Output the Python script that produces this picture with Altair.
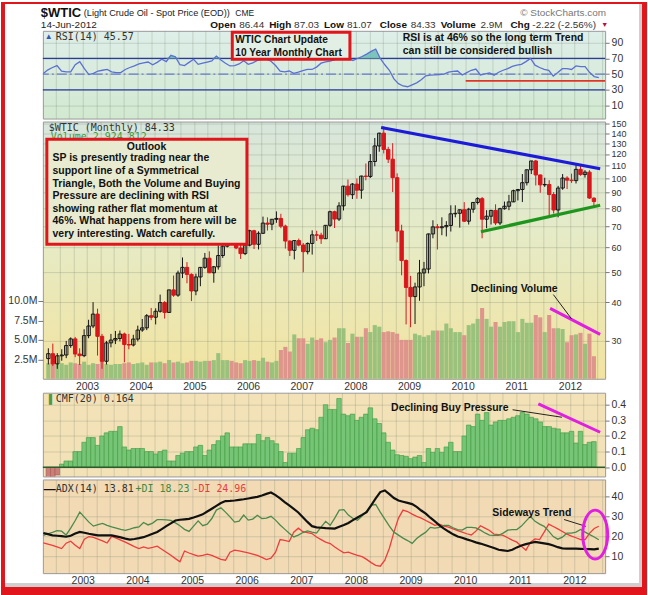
import altair as alt
import pandas as pd
import numpy as np

# ---------------- data (monthly, Apr-2002 .. Jun-2012) ----------------
MONTHS = pd.date_range("2002-04-01", periods=123, freq="MS")

OPEN = [
    26.31, 27.29, 25.31, 26.86, 27.02, 28.98, 30.45, 27.22, 26.89, 31.20, 33.51, 36.60,
    31.04, 25.80, 29.56, 30.19, 30.54, 31.57, 29.20, 29.11, 30.41, 32.52, 33.05, 36.16,
    35.76, 37.38, 39.88, 37.05, 43.80, 42.12, 49.64, 51.76, 49.13, 43.45, 48.20, 51.75,
    55.40, 49.72, 51.97, 56.50, 60.57, 68.94, 66.24, 59.76, 57.32, 61.04, 67.92, 61.41,
    66.63, 71.88, 71.29, 73.93, 74.40, 70.26, 62.91, 58.73, 63.13, 61.05, 58.14, 61.79,
    65.87, 65.71, 64.01, 70.68, 78.21, 74.04, 81.66, 94.53, 88.71, 95.98, 91.75, 101.84,
    101.58, 113.46, 127.35, 140.00, 124.08, 115.46, 100.64, 67.81, 54.43, 44.60, 41.68, 44.76,
    49.66, 51.12, 66.31, 69.89, 69.45, 69.96, 70.61, 77.00, 77.28, 79.36, 72.89, 79.66,
    83.76, 86.15, 73.97, 75.63, 78.95, 71.92, 79.97, 81.43, 84.11, 91.38, 92.19, 96.97,
    106.72, 113.93, 102.70, 95.42, 95.70, 88.81, 79.20, 93.19, 100.36, 98.83, 98.48, 107.07,
    103.02, 104.87, 86.44,
]
HIGH = [
    28.4, 29.4, 27.4, 28.2, 30.0, 30.8, 30.9, 28.4, 32.7, 35.1, 39.99, 38.1,
    31.6, 30.0, 31.6, 32.3, 32.4, 31.9, 31.6, 31.4, 33.6, 35.3, 36.6, 38.3,
    38.2, 42.3, 40.3, 43.8, 48.7, 50.5, 55.7, 53.8, 49.5, 49.4, 51.9, 57.6,
    58.3, 52.3, 60.9, 62.1, 70.8, 70.8, 66.4, 61.5, 61.7, 68.4, 68.4, 67.6,
    75.4, 75.0, 74.0, 78.4, 77.0, 71.0, 63.2, 63.2, 64.1, 62.0, 62.3, 68.1,
    67.9, 66.9, 70.7, 78.8, 78.8, 83.9, 94.7, 99.3, 96.7, 100.1, 102.1, 111.8,
    119.9, 135.1, 140.4, 147.3, 126.5, 130.0, 103.9, 71.0, 54.9, 48.6, 46.2, 54.7,
    53.9, 66.5, 73.4, 71.4, 75.0, 72.9, 82.0, 82.0, 79.4, 83.95, 80.5, 83.9,
    87.1, 87.2, 79.1, 79.3, 82.6, 80.5, 84.3, 88.6, 92.1, 92.6, 103.4, 106.9,
    114.0, 114.8, 103.0, 100.6, 98.8, 90.5, 94.7, 103.4, 101.7, 103.7, 110.6, 110.0,
    106.4, 106.4, 87.03,
]
LOW = [
    25.2, 24.9, 24.4, 25.9, 26.4, 28.5, 26.6, 25.1, 26.6, 30.6, 33.0, 26.9,
    24.4, 25.2, 28.6, 29.3, 29.9, 25.6, 28.2, 28.8, 29.9, 32.1, 32.5, 35.0,
    33.9, 37.0, 35.4, 36.9, 41.6, 41.6, 47.8, 46.0, 40.3, 42.1, 45.0, 51.2,
    49.6, 46.2, 50.9, 55.5, 60.0, 62.8, 59.2, 55.1, 56.7, 60.5, 59.3, 59.1,
    66.3, 68.0, 68.2, 72.0, 69.2, 59.5, 56.3, 54.9, 60.5, 49.9, 57.0, 56.9,
    63.0, 61.6, 64.0, 69.9, 69.3, 73.0, 78.9, 87.5, 85.9, 86.1, 86.1, 98.7,
    100.4, 109.5, 122.0, 120.4, 112.2, 90.5, 62.3, 48.8, 33.9, 33.2, 34.0, 40.4,
    45.0, 49.5, 64.2, 59.1, 65.7, 65.1, 67.5, 75.0, 69.5, 72.4, 71.1, 77.6,
    82.5, 64.2, 69.2, 71.1, 70.8, 70.8, 79.4, 79.1, 84.0, 85.0, 84.0, 95.0,
    103.4, 95.0, 90.0, 94.0, 76.0, 77.1, 75.0, 92.0, 92.5, 96.8, 96.4, 102.1,
    100.7, 86.0, 81.07,
]
CLOSE = [
    27.29, 25.31, 26.86, 27.02, 28.98, 30.45, 27.22, 26.89, 31.20, 33.51, 36.60, 31.04,
    25.80, 29.56, 30.19, 30.54, 31.57, 29.20, 29.11, 30.41, 32.52, 33.05, 36.16, 35.76,
    37.38, 39.88, 37.05, 43.80, 42.12, 49.64, 51.76, 49.13, 43.45, 48.20, 51.75, 55.40,
    49.72, 51.97, 56.50, 60.57, 68.94, 66.24, 59.76, 57.32, 61.04, 67.92, 61.41, 66.63,
    71.88, 71.29, 73.93, 74.40, 70.26, 62.91, 58.73, 63.13, 61.05, 58.14, 61.79, 65.87,
    65.71, 64.01, 70.68, 78.21, 74.04, 81.66, 94.53, 88.71, 95.98, 91.75, 101.84, 101.58,
    113.46, 127.35, 140.00, 124.08, 115.46, 100.64, 67.81, 54.43, 44.60, 41.68, 44.76, 49.66,
    51.12, 66.31, 69.89, 69.45, 69.96, 70.61, 77.00, 77.28, 79.36, 72.89, 79.66, 83.76,
    86.15, 73.97, 75.63, 78.95, 71.92, 79.97, 81.43, 84.11, 91.38, 92.19, 96.97, 106.72,
    113.93, 102.70, 95.42, 95.70, 88.81, 79.20, 93.19, 100.36, 98.83, 98.48, 107.07, 103.02,
    104.87, 86.53, 84.33,
]
VOLUME_M = [
    2.0, 2.1, 1.9, 2.0, 1.8, 2.1, 2.0, 1.9, 2.2, 1.8, 2.0, 1.9,
    2.3, 1.9, 1.8, 1.9, 1.9, 2.0, 2.1, 1.9, 2.0, 2.1, 1.8, 2.1,
    2.1, 2.2, 2.0, 2.4, 2.1, 2.2, 2.0, 2.1, 2.3, 2.3, 2.2, 2.3,
    2.3, 2.4, 3.3, 2.4, 2.4, 2.3, 2.1, 2.0, 2.4, 2.3, 2.4, 2.3,
    2.7, 2.2, 2.1, 2.3, 3.7, 4.1, 3.5, 5.7, 5.2, 5.2, 4.5, 5.3,
    5.0, 5.2, 4.7, 5.0, 5.3, 6.5, 6.5, 4.6, 5.8, 5.4, 5.4, 6.5,
    6.0, 6.9, 6.7, 6.0, 6.1, 6.0, 5.8, 5.0, 5.0, 5.0, 5.8, 5.6,
    5.4, 5.6, 6.2, 6.2, 6.2, 7.1, 6.5, 6.0, 6.0, 5.6, 6.9, 7.1,
    7.7, 9.1, 7.7, 6.7, 7.3, 6.7, 7.3, 7.4, 7.4, 6.0, 7.7, 7.2,
    7.2, 8.2, 7.9, 6.0, 8.2, 6.5, 6.5, 6.4, 4.7, 5.6, 5.7, 5.9,
    4.5, 5.8, 2.9,
]
RSI = [
    50.8, 55.5, 58.5, 61.0, 54.0, 53.0, 53.0, 62.0, 66.0, 57.0, 49.5, 51.0,
    54.0, 55.0, 56.0, 53.0, 52.0, 52.0, 56.0, 58.5, 60.5, 63.0, 64.5, 65.5,
    62.0, 65.0, 69.0, 66.0, 74.0, 72.0, 62.0, 61.0, 65.0, 69.0, 62.5, 64.0,
    65.5, 67.0, 73.0, 68.0, 64.0, 60.5, 61.0, 63.0, 67.0, 62.5, 64.5, 67.5,
    69.0, 69.0, 66.5, 61.0, 54.0, 53.0, 54.0, 51.0, 52.5, 54.5, 56.0, 56.0,
    59.0, 64.0, 65.7, 66.5, 68.5, 70.0, 70.0, 70.0, 67.5, 70.0, 72.5, 75.5,
    79.0, 82.0, 70.0, 62.0, 55.0, 44.0, 38.0, 35.0, 34.0, 36.5, 39.0, 43.0,
    48.0, 48.7, 49.0, 49.5, 50.0, 52.5, 53.5, 54.0, 49.0, 52.0, 55.0, 56.5,
    49.0, 50.5, 51.5, 48.7, 52.5, 55.0, 57.0, 60.0, 61.5, 62.5, 66.0, 70.0,
    61.5, 58.5, 56.0, 55.0, 47.5, 52.0, 57.0, 57.0, 56.0, 60.5, 59.5, 59.7,
    52.0, 47.0, 45.57,
]
CMF = [
    -0.09, -0.06, -0.05, 0.02, 0.04, 0.04, 0.10, 0.10, 0.16, 0.19, 0.19, 0.14,
    0.20, 0.22, 0.23, 0.23, 0.26, 0.13, 0.11, 0.12, 0.12, 0.12, 0.10, 0.10,
    0.085, 0.10, 0.11, 0.04, 0.04, 0.075, 0.09, 0.10, 0.10, 0.13, 0.14, 0.075,
    0.11, 0.145, 0.17, 0.20, 0.22, 0.13, 0.13, 0.13, 0.15, 0.15, 0.15, 0.21,
    0.17, 0.19, 0.17, 0.15, 0.10, 0.03, 0.09, 0.09, 0.12, 0.19, 0.24, 0.25,
    0.24, 0.32, 0.40, 0.37, 0.37, 0.44, 0.34, 0.33, 0.34, 0.30, 0.32, 0.34,
    0.38, 0.31, 0.28, 0.22, 0.16, 0.11, 0.08, 0.075, 0.07, 0.055, 0.065, 0.075,
    0.03, 0.12, 0.095, 0.12, 0.095, 0.13, 0.16, 0.10, 0.10, 0.20, 0.27, 0.26,
    0.34, 0.30, 0.35, 0.27, 0.29, 0.30, 0.30, 0.31, 0.32, 0.33, 0.35, 0.34,
    0.32, 0.31, 0.29, 0.26, 0.26, 0.25, 0.245, 0.22, 0.22, 0.23, 0.155, 0.23,
    0.145, 0.16, 0.164,
]
ADX = [
    21.6, 21.0, 20.4, 20.2, 20.0, 19.7, 20.2, 21.3, 22.1, 21.7, 21.2, 20.8,
    20.4, 20.4, 20.4, 20.4, 19.9, 19.4, 18.8, 18.3, 18.6, 19.0, 19.5, 20.3,
    21.2, 22.1, 23.5, 25.0, 26.4, 27.8, 28.2, 28.4, 28.6, 29.3, 30.1, 30.9,
    32.3, 33.7, 35.1, 36.5, 37.5, 37.6, 37.8, 38.1, 38.4, 38.8, 39.2, 39.6,
    40.3, 41.1, 41.8, 40.5, 38.8, 37.0, 35.3, 33.6, 31.8, 29.4, 27.1, 25.0,
    24.4, 24.2, 24.0, 23.9, 23.8, 24.7, 25.6, 26.6, 28.0, 29.3, 30.6, 32.0,
    35.4, 38.8, 42.0, 42.8, 41.0, 39.0, 37.8, 37.2, 36.6, 36.0, 34.6, 32.8,
    31.2, 29.2, 27.4, 25.4, 23.8, 22.3, 20.9, 19.8, 19.2, 18.4, 17.7, 16.9,
    16.3, 15.6, 14.8, 14.1, 13.2, 12.9, 12.6, 13.2, 14.4, 15.3, 16.0, 16.6,
    17.1, 16.8, 16.4, 16.0, 15.3, 14.5, 13.9, 13.8, 13.8, 13.8, 13.7, 13.6,
    13.5, 13.4, 13.81,
]
PLUS_DI = [
    20.4, 21.2, 21.9, 22.8, 22.5, 20.6, 24.0, 27.8, 32.0, 29.5, 27.0, 25.0,
    25.8, 26.4, 25.4, 24.6, 24.0, 23.4, 22.9, 23.5, 24.2, 24.6, 26.8, 25.6,
    26.5, 28.2, 28.2, 28.1, 27.9, 26.6, 25.2, 23.4, 22.4, 25.0, 27.6, 25.2,
    26.0, 28.8, 33.0, 34.2, 32.0, 29.6, 27.0, 27.5, 30.5, 28.0, 28.5, 30.4,
    28.8, 29.0, 29.9, 28.0, 25.6, 23.5, 21.5, 19.6, 20.5, 21.8, 22.6, 22.0,
    21.5, 24.5, 27.4, 25.4, 29.0, 33.0, 33.2, 30.5, 28.8, 27.9, 30.0, 32.5,
    35.5, 35.8, 32.0, 28.5, 25.0, 22.0, 20.5, 19.0, 17.8, 16.4, 18.8, 20.5,
    22.0, 24.4, 24.0, 24.4, 25.4, 25.4, 24.2, 23.3, 23.0, 24.4, 24.4, 24.1,
    23.0, 21.6, 20.5, 20.4, 20.4, 21.5, 23.0, 23.3, 23.3, 25.0, 27.5, 29.8,
    27.4, 26.0, 24.9, 22.5, 19.8, 18.5, 19.5, 21.5, 21.5, 22.0, 23.3, 22.0,
    20.8, 19.6, 18.23,
]
MINUS_DI = [
    16.6, 16.0, 15.4, 14.6, 13.8, 16.5, 17.5, 15.5, 13.8, 18.5, 19.8, 19.4,
    18.5, 17.6, 16.6, 19.9, 19.0, 18.0, 17.0, 15.9, 14.8, 13.8, 14.6, 13.9,
    14.4, 15.0, 13.5, 12.0, 10.5, 8.8, 7.2, 12.6, 11.6, 10.8, 10.0, 10.4,
    11.0, 10.4, 9.4, 8.4, 8.0, 12.0, 13.0, 12.6, 12.1, 11.6, 11.0, 10.4,
    9.4, 8.3, 9.0, 12.0, 18.3, 17.9, 17.3, 22.0, 24.0, 22.2, 21.8, 21.3,
    19.6, 18.3, 17.0, 16.3, 14.6, 13.1, 11.7, 12.0, 11.2, 10.4, 9.8, 8.4,
    6.8, 5.4, 5.0, 8.0, 14.0, 22.0, 29.0, 33.0, 32.3, 31.0, 29.9, 29.0,
    27.8, 26.6, 25.4, 26.0, 25.0, 24.5, 23.6, 22.8, 22.0, 21.2, 20.6, 22.5,
    25.2, 24.0, 22.8, 21.0, 20.8, 20.4, 19.2, 18.0, 17.0, 15.0, 13.0, 17.0,
    18.6, 18.3, 22.0, 26.0, 24.8, 23.6, 22.3, 21.0, 20.0, 19.2, 18.3, 18.3,
    21.5, 23.8, 24.96,
]

# axis tick values
YEAR_QUARTERS = [round(2002.5 + 0.25 * k, 2) for k in range(41)]
RSI_TICKS = [10, 30, 50, 70, 90]
PRICE_TICKS = [30, 40, 50, 60, 70, 80, 90, 100, 110, 120, 130, 140, 150]
VOL_TICKS = [2.5, 5.0, 7.5, 10.0]
CMF_TICKS = [0.0, 0.1, 0.2, 0.3, 0.4]
ADX_TICKS = [10, 20, 30, 40]

# annotation anchors (fractional year, value)
BLUE_T, BLUE_P = [2008.48, 2012.562], [146.0, 107.5]
GREEN_T, GREEN_P = [2010.34, 2012.562], [67.4, 82.0]
VOLMAG_T, VOLMAG_P = [2011.63, 2012.562], [38.2, 31.5]
VOLPTR_T, VOLPTR_P = [2011.69, 2012.03], [42.3, 35.3]
VOLTXT_T, VOLTXT_P = [2010.96], [44.1]
RSIRED_T, RSIRED_V = [2010.01, 2012.562], [41.5]
CMFTXT_T, CMFTXT_V = [2009.76], [0.38]
CMFPTR_T, CMFPTR_V = [2010.93, 2011.85], [0.368, 0.32]
CMFMAG_T, CMFMAG_V = [2011.41, 2012.562], [0.406, 0.224]
ADXTXT_T, ADXTXT_V = [2011.22], [31.5]
ADXPTR_T, ADXPTR_V = [2011.81, 2012.21], [28.3, 24.9]
ADXELL_T, ADXELL_V = [2012.38], [20.8]

OUTLOOK_LINES = [
    "SP is presently trading near the",
    "support line of a Symmetrical",
    "Triangle, Both the Volume and Buying",
    "Pressure are declining with RSI",
    "showing rather flat momentum at",
    "46%. What happens from here will be",
    "very interesting. Watch carefully.",
]

# ---------------- tables ----------------
df = pd.DataFrame({
    "open": OPEN, "high": HIGH, "low": LOW, "close": CLOSE, "vol": VOLUME_M,
    "rsi": RSI, "cmf": CMF, "adx": ADX, "pdi": PLUS_DI, "mdi": MINUS_DI,
})
df["t"] = MONTHS.year + (MONTHS.month - 1 + 0.35) / 12.0
df["dir"] = np.where(df["close"] >= df["open"], "up", "down")

ONE = pd.DataFrame({"k": [0]})

W = 564
SANS = "Liberation Sans, Arial, sans-serif"
MONO = "DejaVu Sans Mono, monospace"
RED = "#e0161c"
MAGENTA = "#e01fe0"
XDOM = [2002.27, 2012.562]


def X(labels=False, pad=3):
    return alt.X(
        "t:Q",
        scale=alt.Scale(domain=XDOM, nice=False, zero=False),
        axis=alt.Axis(values=YEAR_QUARTERS, grid=True, labels=labels, ticks=False, domain=False,
                      title=None, labelPadding=pad, labelOverlap=False, labelFlush=False,
                      labelExpr="datum.value % 1 == 0 ? format(datum.value, 'd') : ''"),
    )


def right_axis(values, fmt=None, size=None):
    kw = dict(orient="right", values=values, grid=True, title=None, domain=False,
              tickSize=4, labelPadding=2, labelOverlap=False)
    if fmt:
        kw["format"] = fmt
    if size:
        kw["labelFontSize"] = size
    return alt.Axis(**kw)


def Yq(field, domain, values, fmt=None, scale_type=None, size=None):
    sc = dict(domain=domain, nice=False, zero=False)
    if scale_type:
        sc["type"] = scale_type
    return alt.Y(f"{field}:Q", scale=alt.Scale(**sc), axis=right_axis(values, fmt, size))


def two(ts, vs, name):
    return pd.DataFrame({"t": ts, name: vs})


def ptext(text, x, y, **kw):
    return alt.Chart(ONE).mark_text(text=text, **kw).encode(x=alt.value(x), y=alt.value(y))


def prect(x, x2, y, y2, **kw):
    return alt.Chart(ONE).mark_rect(**kw).encode(
        x=alt.value(x), x2=alt.value(x2), y=alt.value(y), y2=alt.value(y2))


def grad(stops):
    s = ", ".join("{offset: %s, color: '%s'}" % (o, c) for o, c in stops)
    return alt.ExprRef(expr="{gradient: 'linear', x1: 0, y1: 0, x2: 0, y2: 1, stops: [%s]}" % s)


base = alt.Chart(df)
BOLD = dict(font=SANS, fontWeight="bold", fontSize=10.5, color="#111")

# ---------------- RSI panel ----------------
RSI_DOM = [-6.5, 105.2]
def Yr(f):
    return Yq(f, RSI_DOM, RSI_TICKS)

rsi_levels = alt.Chart(pd.DataFrame({"lvl": [70, 30]})).mark_rule(
    color="#2a3a9e", strokeWidth=1.2).encode(y=Yr("lvl"))
rsi_mid = alt.Chart(pd.DataFrame({"lvl": [50]})).mark_rule(
    color="#6a7ac8", strokeWidth=1.3, strokeDash=[10, 3, 2, 3]).encode(y=Yr("lvl"))
rsi_fill = base.transform_calculate(rtop="max(datum.rsi, 70)").mark_area(
    color="#6cbcb6", opacity=0.85).encode(x=X(), y=Yr("rtop"), y2=alt.datum(70))
rsi_line = base.mark_line(color="#5b70d2", strokeWidth=1.3).encode(x=X(), y=Yr("rsi"))
rsi_red = alt.Chart(pd.DataFrame({"t": [RSIRED_T[0]], "t1": [RSIRED_T[1]], "lvl": RSIRED_V})).mark_rule(
    color="#e0352a", strokeWidth=1.6).encode(x=X(), x2="t1:Q", y=Yr("lvl"))

rsi_layers = [
    rsi_levels, rsi_mid, rsi_fill, rsi_line, rsi_red,
    ptext("RSI(14) 45.57", 13, 6, font=MONO, fontSize=10, align="left", baseline="middle", color="#333"),
    ptext("\u25b2", 2, 6, fontSize=8, align="left", baseline="middle", color="#3355bb"),
    prect(190, 308, 1.5, 28.5, fill="#e2efe4", stroke=RED, strokeWidth=3),
    ptext(["WTIC Chart Update", "10 Year Monthly Chart"], 193, 9.5, align="left",
          baseline="middle", lineHeight=13, **dict(BOLD, fontSize=10.2)),
    ptext(["RSI is at 46% so the long term Trend", "can still be considered bullish"], 361, 7,
          align="left", baseline="middle", lineHeight=13.5, **BOLD),
    # header
    ptext("$WTIC", -2, -18, font=SANS, fontWeight="bold", fontSize=13, align="left",
          baseline="middle", color="#111"),
    ptext("(Light Crude Oil - Spot Price (EOD))", 41, -17.5, font=SANS, fontSize=9.2,
          align="left", baseline="middle", color="#222"),
    ptext("CME", 193, -17.5, font=SANS, fontSize=8.5, align="left", baseline="middle", color="#222"),
    ptext("\u00a9 StockCharts.com", 565, -18, font=SANS, fontSize=10, align="right",
          baseline="middle", color="#777"),
    ptext("14-Jun-2012", -2, -6, font=SANS, fontSize=10, align="left", baseline="middle", color="#222"),
]
hdr = [("Open", 168, True), ("86.44", 197, False), ("High", 227, True), ("87.03", 252, False),
       ("Low", 282, True), ("81.07", 305, False), ("Close", 338, True), ("84.33", 369, False),
       ("Volume", 399, True), ("2.9M", 439, False), ("Chg", 469, True), ("-2.22 (-2.56%)", 491, False)]
for txt, xx, b in hdr:
    rsi_layers.append(ptext(txt, xx, -6, font=SANS, fontSize=10,
                            fontWeight="bold" if b else "normal", align="left",
                            baseline="middle", color="#111" if b else "#333"))
rsi_layers.append(ptext("\u25bc", 560, -6, fontSize=7, align="left", baseline="middle", color="#b01040"))
# red frame and shadow of the whole picture
rsi_layers += [
    prect(-42, 606, 554, 558, fill="#cfcfcf"),
    prect(598, 601, -29, 566, fill="#cfcfcf"),
    prect(-42, -38, -29, 566, fill=RED),
    prect(601, 606, -29, 566, fill=RED),
    prect(-42, 606, -29, -27, fill=RED),
    prect(-42, 606, 558, 566, fill=RED),
]
rsi_panel = alt.layer(*rsi_layers).properties(
    width=W, height=88,
    view=alt.ViewBackground(fill=grad([(0, "#deeee9"), (1, "#d2e9d0")]), stroke="#9a9a9a"))

# ---------------- price / volume panel ----------------
P_DOM = [22.66, 152.6]
def Yp(f):
    return Yq(f, P_DOM, PRICE_TICKS, scale_type="log", size=9)

UP = "datum.dir == 'up'"
vol = base.mark_bar(size=4.1, opacity=0.92).encode(
    x=X(labels=True),
    y=alt.Y("vol:Q", scale=alt.Scale(domain=[0, 33.08], nice=False, zero=False),
            axis=alt.Axis(orient="left", values=VOL_TICKS, labelExpr="format(datum.value, '.1f') + 'M'",
                          grid=False, title=None, domain=False, tickSize=5, labelPadding=1)),
    y2=alt.datum(0),
    color=alt.condition(UP, alt.value("#93bf78"), alt.value("#dc8e89")),
)
wicks = base.mark_rule(strokeWidth=1, clip=True).encode(
    x=X(labels=True), y=Yp("low"), y2="high:Q",
    color=alt.condition(UP, alt.value("#151515"), alt.value("#d8161b")))
bodies = base.mark_bar(size=3.4, strokeWidth=1, clip=True).encode(
    x=X(labels=True), y=Yp("open"), y2="close:Q",
    fill=alt.condition(UP, alt.value("transparent"), alt.value("#d8161b")),
    stroke=alt.condition(UP, alt.value("#151515"), alt.value("#d8161b")))
blue = alt.Chart(two(BLUE_T, BLUE_P, "p")).mark_line(color="#1c1cd8", strokeWidth=3.2).encode(
    x=X(labels=True), y=Yp("p"))
green = alt.Chart(two(GREEN_T, GREEN_P, "p")).mark_line(color="#1e961e", strokeWidth=3.2).encode(
    x=X(labels=True), y=Yp("p"))
volmag = alt.Chart(two(VOLMAG_T, VOLMAG_P, "p")).mark_line(color=MAGENTA, strokeWidth=3).encode(
    x=X(labels=True), y=Yp("p"))
volptr = alt.Chart(two(VOLPTR_T, VOLPTR_P, "p")).mark_line(color="#222", strokeWidth=1).encode(
    x=X(labels=True), y=Yp("p"))
voltxt = alt.Chart(two(VOLTXT_T, VOLTXT_P, "p")).mark_text(
    text="Declining Volume", align="center", baseline="middle", **BOLD).encode(x=X(labels=True), y=Yp("p"))

price_group = alt.layer(
    wicks, bodies, blue, green, volmag, volptr, voltxt,
    ptext("$WTIC (Monthly) 84.33", 6, 6, font=MONO, fontSize=10, align="left", baseline="middle", color="#333"),
    ptext("Volume 2,924,812", 8, 16, font=MONO, fontSize=10, align="left", baseline="middle", color="#3f9a3f"),
    prect(4, 204.7, 17.7, 123, fill="#e8ebcf", stroke=RED, strokeWidth=3),
    ptext("Outlook", 104, 26, align="center", baseline="middle", **BOLD),
    ptext(OUTLOOK_LINES, 9.7, 37, align="left", baseline="middle", lineHeight=12.6, **BOLD),
)
main_panel = alt.layer(vol, price_group).resolve_scale(y="independent").properties(
    width=W, height=258,
    view=alt.ViewBackground(
        fill=grad([(0, "#d7e6dc"), (0.45, "#e6ebc6"), (1, "#f2e3a0")]), stroke="#9a9a9a"))

spacer = alt.Chart(ONE).mark_point(opacity=0).encode(x=alt.value(0), y=alt.value(0)).properties(
    width=W, height=8, view=alt.ViewBackground(stroke=None, fill=None))

# ---------------- CMF panel ----------------
C_DOM = [-0.059, 0.477]
def Yc(f):
    return Yq(f, C_DOM, CMF_TICKS, fmt=".1f")

POS = "datum.cmf >= 0"
cmf_bars = base.mark_bar(size=4.57, strokeWidth=0.6, clip=True).encode(
    x=X(), y=Yc("cmf"), y2=alt.datum(0),
    fill=alt.condition(POS, alt.value("#76c476"), alt.value("#c98079")),
    stroke=alt.condition(POS, alt.value("#3f9a3f"), alt.value("#a85a55")))
cmf_zero = alt.Chart(pd.DataFrame({"lvl": [0.0]})).mark_rule(color="#2b5d2b", strokeWidth=1.6).encode(y=Yc("lvl"))
cmf_txt = alt.Chart(two(CMFTXT_T, CMFTXT_V, "v")).mark_text(
    text="Declining Buy Pressure", align="center", baseline="middle", **BOLD).encode(x=X(), y=Yc("v"))
cmf_ptr = alt.Chart(two(CMFPTR_T, CMFPTR_V, "v")).mark_line(color="#222", strokeWidth=1).encode(x=X(), y=Yc("v"))
cmf_mag = alt.Chart(two(CMFMAG_T, CMFMAG_V, "v")).mark_line(color=MAGENTA, strokeWidth=3).encode(x=X(), y=Yc("v"))
cmf_panel = alt.layer(
    cmf_bars, cmf_zero, cmf_ptr, cmf_mag, cmf_txt,
    ptext("CMF(20) 0.164", 13, 6, font=MONO, fontSize=10, align="left", baseline="middle", color="#333"),
    ptext("\u2590", 3, 6, fontSize=9, align="left", baseline="middle", color="#4a9a4a"),
).properties(width=W, height=84, view=alt.ViewBackground(fill="#f3e2b8", stroke="#9a9a9a"))

# ---------------- ADX panel ----------------
A_DOM = [1.54, 48.3]
def Ya(f):
    return Yq(f, A_DOM, ADX_TICKS)

ELLIPSE = "M -0.51 0 A 0.51 1 0 1 0 0.51 0 A 0.51 1 0 1 0 -0.51 0 Z"
adx_panel = alt.layer(
    base.mark_line(color="#f03c3c", strokeWidth=1.3).encode(x=X(labels=True, pad=2), y=Ya("mdi")),
    base.mark_line(color="#4b8a4b", strokeWidth=1.3).encode(x=X(labels=True, pad=2), y=Ya("pdi")),
    base.mark_line(color="#111", strokeWidth=2.2).encode(x=X(labels=True, pad=2), y=Ya("adx")),
    alt.Chart(two(ADXPTR_T, ADXPTR_V, "v")).mark_line(color="#222", strokeWidth=1).encode(
        x=X(labels=True, pad=2), y=Ya("v")),
    alt.Chart(two(ADXTXT_T, ADXTXT_V, "v")).mark_text(
        text="Sideways Trend", align="center", baseline="middle", **BOLD).encode(
        x=X(labels=True, pad=2), y=Ya("v")),
    alt.Chart(two(ADXELL_T, ADXELL_V, "v")).mark_point(
        shape=ELLIPSE, size=2401, filled=False, stroke=MAGENTA, strokeWidth=3, opacity=1).encode(
        x=X(labels=True, pad=2), y=Ya("v")),
    ptext("\u2014", 1, 10, fontSize=12, fontWeight="bold", align="left", baseline="middle", color="#111"),
    ptext("ADX(14) 13.81", 13, 10, font=MONO, fontSize=10, align="left", baseline="middle", color="#333"),
    ptext("+DI 18.23", 93, 10, font=MONO, fontSize=10, align="left", baseline="middle", color="#3f8a3f"),
    ptext("-DI 24.96", 150, 10, font=MONO, fontSize=10, align="left", baseline="middle", color="#e83a3a"),
).properties(width=W, height=94, view=alt.ViewBackground(fill="#f2dab5", stroke="#9a9a9a"))

chart = alt.vconcat(
    rsi_panel, main_panel, spacer, cmf_panel, adx_panel, spacing=3, bounds="flush"
).properties(padding=0, background="white").configure_axis(
    labelFont="Liberation Sans", labelFontSize=10.5, labelColor="#333", tickColor="#777",
    gridColor="#6f7f66", gridOpacity=0.25, gridWidth=1,
).configure_view(stroke="#9a9a9a")

chart.save("out.html", embed_options={"renderer": "svg", "actions": False})
